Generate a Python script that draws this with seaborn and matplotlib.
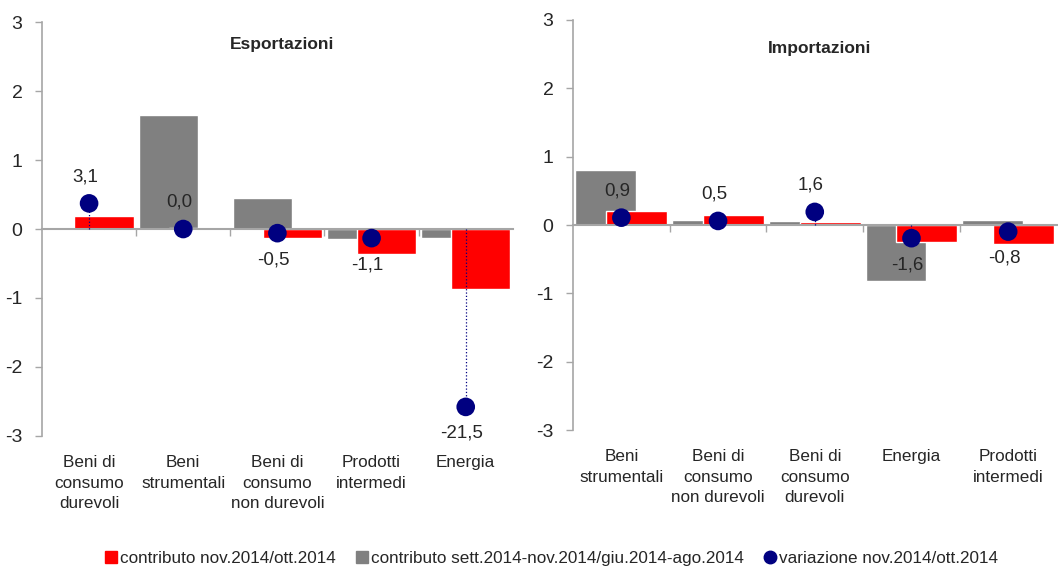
import matplotlib
matplotlib.use("Agg")
import matplotlib.pyplot as plt
import matplotlib.transforms as mtransforms
from matplotlib.lines import Line2D
from matplotlib import font_manager
import numpy as np
import pandas as pd
import seaborn as sns

# ---------------- data ----------------
exp_categories = ["Beni di\nconsumo\ndurevoli", "Beni\nstrumentali", "Beni di\nconsumo\nnon durevoli",
                  "Prodotti\nintermedi", "Energia"]
exp_contrib_month = [0.19, 0.02, -0.13, -0.36, -0.87]
exp_contrib_quarter = [-0.02, 1.66, 0.45, -0.14, -0.13]
exp_variation = [3.1, 0.0, -0.5, -1.1, -21.5]

imp_categories = ["Beni\nstrumentali", "Beni di\nconsumo\nnon durevoli", "Beni di\nconsumo\ndurevoli",
                  "Energia", "Prodotti\nintermedi"]
imp_contrib_month = [0.21, 0.14, 0.05, -0.25, -0.27]
imp_contrib_quarter = [0.80, 0.07, 0.06, -0.82, 0.07]
imp_variation = [0.9, 0.5, 1.6, -1.6, -0.8]

panel_titles = ["Esportazioni", "Importazioni"]
legend_labels = ["contributo nov.2014/ott.2014",
                 "contributo sett.2014-nov.2014/giu.2014-ago.2014",
                 "variazione nov.2014/ott.2014"]
y_ticks = [-3, -2, -1, 0, 1, 2, 3]

# ---------------- style ----------------
sns.set_style("white")
names = {f.name for f in font_manager.fontManager.ttflist}
base = "Liberation Sans Narrow" if "Liberation Sans Narrow" in names else "Liberation Sans"
plt.rcParams["font.family"] = [base, "DejaVu Sans"]
plt.rcParams["axes.unicode_minus"] = False

RED = "#ff0000"
GRAY = "#808080"
NAVY = "#000080"
AXIS = "#a6a6a6"

fig = plt.figure(figsize=(10.58, 5.69), dpi=100)
ax_l = fig.add_axes([0.0397, 0.234, 0.445, 0.727])
ax_r = fig.add_axes([0.5416, 0.244, 0.457, 0.721])


def fmt(v):
    return f"{v:.1f}".replace(".", ",")


def draw_panel(ax, cats, red, gray, var, title, title_y):
    n = len(cats)
    idx = np.arange(n)
    df_g = pd.DataFrame({"x": idx - 0.16, "v": gray})
    df_r = pd.DataFrame({"x": idx + 0.16, "v": red})
    sns.barplot(data=df_g, x="x", y="v", native_scale=True, width=0.63,
                color=GRAY, saturation=1, ax=ax, zorder=2)
    sns.barplot(data=df_r, x="x", y="v", native_scale=True, width=0.63,
                color=RED, saturation=1, ax=ax, zorder=3)
    ax.set_xlim(-0.5, n - 0.5)
    ax.set_ylim(-3, 3)
    ax.set_xlabel("")
    ax.set_ylabel("")
    ax.set_yticks(y_ticks)
    ax.set_yticklabels([str(t) for t in y_ticks], fontsize=14)
    ax.tick_params(axis="y", direction="out", length=5, width=1, color=AXIS, pad=9, left=True)
    for s in ["top", "right"]:
        ax.spines[s].set_visible(False)
    ax.spines["left"].set_color(AXIS)
    ax.spines["left"].set_linewidth(1.2)
    ax.spines["bottom"].set_position(("data", 0))
    ax.spines["bottom"].set_color(AXIS)
    ax.spines["bottom"].set_linewidth(1.5)
    ax.spines["bottom"].set_zorder(4)
    ax.set_xticks(np.arange(0.5, n - 0.5, 1.0))
    ax.set_xticklabels([])
    ax.tick_params(axis="x", direction="out", length=5, width=1, color=AXIS, bottom=True)
    trans = mtransforms.blended_transform_factory(ax.transData, ax.transAxes)
    for i, c in enumerate(cats):
        ax.text(i, -0.047, c, transform=trans, ha="center", va="top", fontsize=12.3,
                linespacing=1.45)
    ax.text(0.51, title_y, title, transform=ax.transAxes, ha="center", va="center",
            fontsize=12.5, fontweight="bold")

    # secondary axis for the variation dots
    tw = ax.twinx()
    tw.set_ylim(-25, 25)
    tw.axis("off")
    tw.vlines(idx, 0, var, colors=NAVY, linestyles=":", linewidth=0.9, zorder=5)
    df_v = pd.DataFrame({"x": idx, "v": var})
    sns.scatterplot(data=df_v, x="x", y="v", s=180, color=NAVY, edgecolor="none",
                    ax=tw, zorder=6, legend=False)
    tw.set_xlim(-0.5, n - 0.5)
    for i, v in enumerate(var):
        off = 13 if v >= 0 else -13
        tw.annotate(fmt(v), (i, v), xytext=(-3, off), textcoords="offset points",
                    ha="center", va="bottom" if v >= 0 else "top", fontsize=13.5)


draw_panel(ax_l, exp_categories, exp_contrib_month, exp_contrib_quarter, exp_variation,
           panel_titles[0], 0.947)
draw_panel(ax_r, imp_categories, imp_contrib_month, imp_contrib_quarter, imp_variation,
           panel_titles[1], 0.93)

handles = [
    Line2D([], [], marker="s", linestyle="none", color=RED, markersize=9),
    Line2D([], [], marker="s", linestyle="none", color=GRAY, markersize=9),
    Line2D([], [], marker="o", linestyle="none", color=NAVY, markersize=9),
]
fig.legend(handles, legend_labels, loc="lower center", bbox_to_anchor=(0.52, -0.022), ncol=3,
           frameon=False, fontsize=12.3, handletextpad=0.05, columnspacing=1.0,
           handlelength=1.0)

fig.savefig("out.png", dpi=100)
